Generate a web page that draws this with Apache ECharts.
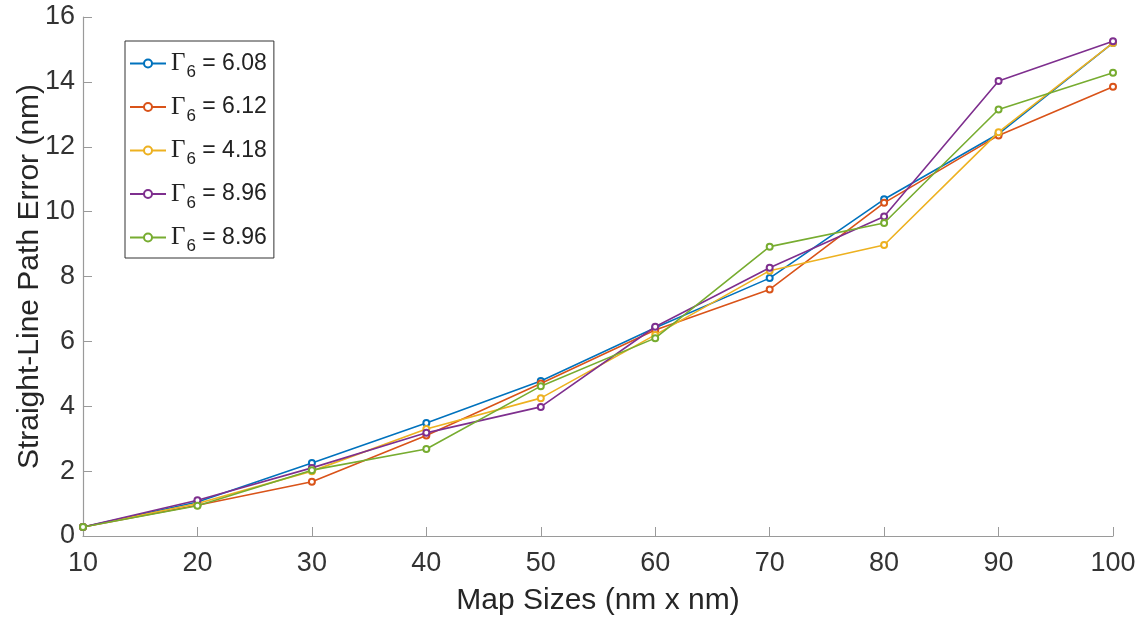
<!DOCTYPE html>
<html>
<head>
<meta charset="utf-8">
<script src="https://cdn.jsdelivr.net/npm/echarts@6/dist/echarts.min.js"></script>
<style>html,body{margin:0;padding:0;background:#fff}#c{width:1141px;height:620px}</style>
</head>
<body>
<div id="c"></div>
<script>
const mapSizes = [10, 20, 30, 40, 50, 60, 70, 80, 90, 100];
const seriesKeys = ['s1', 's2', 's3', 's4', 's5'];
const gammaValues = ['6.08', '6.12', '4.18', '8.96', '8.96'];
const blueVals   = [0.28, 1.05, 2.25, 3.48, 4.78, 6.42, 7.95, 10.38, 12.40, 15.20];
const redVals    = [0.28, 0.95, 1.67, 3.10, 4.70, 6.35, 7.60, 10.27, 12.35, 13.85];
const yellowVals = [0.28, 1.00, 2.00, 3.30, 4.25, 6.20, 8.18, 8.97, 12.45, 15.20];
const purpleVals = [0.28, 1.10, 2.10, 3.18, 3.98, 6.45, 8.27, 9.85, 14.03, 15.25];
const greenVals  = [0.28, 0.93, 2.03, 2.68, 4.62, 6.10, 8.92, 9.65, 13.15, 14.28];
const yTicks = [0, 2, 4, 6, 8, 10, 12, 14, 16];

const colors = ['#0072BD', '#D95319', '#EDB120', '#7E2F8E', '#77AC30'];
const allVals = [blueVals, redVals, yellowVals, purpleVals, greenVals];
const SANS = '"Liberation Sans", Arial, sans-serif';

const chart = echarts.init(document.getElementById('c'), null, {renderer: 'canvas'});
const series = allVals.map((vals, i) => ({
  name: seriesKeys[i],
  type: 'line',
  data: mapSizes.map((x, j) => [x, vals[j]]),
  symbol: 'emptyCircle',
  symbolSize: 6,
  showSymbol: true,
  lineStyle: {width: 1.6, color: colors[i]},
  itemStyle: {color: colors[i], borderWidth: 1.3},
  emphasis: {disabled: true},
  z: 2 + i
}));

chart.setOption({
  animation: false,
  color: colors,
  grid: {left: 83, right: 28, top: 17, bottom: 84, containLabel: false, outerBoundsMode: 'none'},
  legend: {
    orient: 'vertical',
    left: 125,
    top: 41,
    data: seriesKeys,
    itemWidth: 36,
    itemHeight: 10,
    itemGap: 8.5,
    padding: [5, 7, 3, 4],
    borderColor: '#333',
    borderWidth: 1,
    backgroundColor: '#fff',
    formatter: function (name) {
      const i = seriesKeys.indexOf(name);
      return '{g|Γ}{s|6}{t| = ' + gammaValues[i] + '}';
    },
    textStyle: {
      color: '#222',
      rich: {
        g: {fontFamily: 'Liberation Serif', fontSize: 25, color: '#222', lineHeight: 32},
        s: {fontFamily: SANS, fontSize: 17, color: '#222', padding: [18, 0, 0, 1], lineHeight: 32},
        t: {fontFamily: SANS, fontSize: 23, color: '#222', lineHeight: 32}
      }
    }
  },
  xAxis: {
    type: 'value',
    min: 10, max: 100, interval: 10,
    name: 'Map Sizes (nm x nm)',
    nameLocation: 'middle',
    nameGap: 50,
    nameMoveOverlap: false,
    nameTextStyle: {fontFamily: SANS, fontSize: 30, color: '#262626'},
    axisLine: {show: true, lineStyle: {color: '#9a9a9a', width: 1.2}},
    axisTick: {show: true, inside: true, length: 9, lineStyle: {color: '#9a9a9a'}},
    axisLabel: {fontFamily: SANS, fontSize: 27, color: '#333', margin: 14},
    splitLine: {show: false}
  },
  yAxis: {
    type: 'value',
    min: 0, max: 16, interval: 2,
    name: 'Straight-Line Path Error (nm)',
    nameLocation: 'middle',
    nameGap: 38,
    nameMoveOverlap: false,
    nameTextStyle: {fontFamily: SANS, fontSize: 30, color: '#262626'},
    axisLine: {show: true, lineStyle: {color: '#9a9a9a', width: 1.2}},
    axisTick: {show: true, inside: true, length: 9, lineStyle: {color: '#9a9a9a'}},
    axisLabel: {fontFamily: SANS, fontSize: 27, color: '#333', margin: 8,
      formatter: v => yTicks.includes(v) ? String(v) : ''},
    splitLine: {show: false}
  },
  series: series
});
</script>
</body>
</html>
